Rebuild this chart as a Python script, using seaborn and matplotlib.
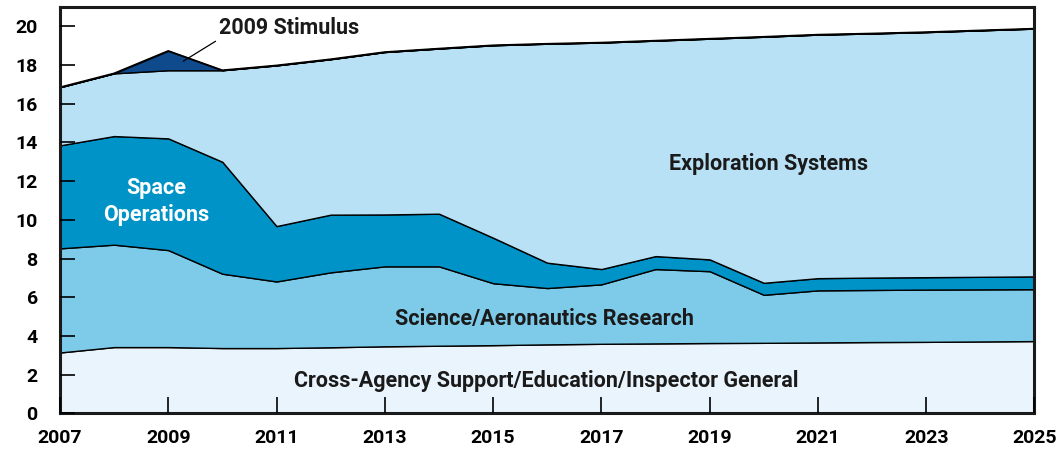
import numpy as np
import matplotlib
matplotlib.use('Agg')
import matplotlib.pyplot as plt
import seaborn as sns

# NASA budget by area, billions
years = list(range(2007, 2026))
cross_agency = [3.15, 3.43, 3.43, 3.38, 3.38, 3.42, 3.47, 3.50, 3.53, 3.57,
                3.60, 3.62, 3.64, 3.65, 3.67, 3.69, 3.70, 3.72, 3.74]
science = [5.38, 5.29, 5.01, 3.84, 3.44, 3.87, 4.13, 4.10, 3.20, 2.91,
           3.07, 3.84, 3.71, 2.48, 2.69, 2.69, 2.70, 2.69, 2.68]
space_ops = [5.32, 5.61, 5.77, 5.78, 2.86, 2.98, 2.68, 2.72, 2.35, 1.31,
             0.79, 0.67, 0.61, 0.62, 0.63, 0.64, 0.64, 0.65, 0.66]
exploration = [3.00, 3.24, 3.52, 4.73, 8.30, 8.03, 8.39, 8.53, 9.94, 11.31,
               11.70, 11.13, 11.40, 12.71, 12.58, 12.61, 12.66, 12.73, 12.80]
stimulus = [0, 0, 1.0, 0, 0, 0, 0, 0, 0, 0, 0, 0, 0, 0, 0, 0, 0, 0, 0]

colors = ['#EAF4FD', '#7DCBE9', '#0093C8', '#B8E1F5', '#0E4A8C']
x_ticks = list(range(2007, 2026, 2))
y_ticks = list(range(0, 21, 2))

sns.set_theme(style='white')
plt.rcParams['font.family'] = ['Roboto', 'DejaVu Sans']
plt.rcParams['font.weight'] = 'bold'

fig, ax = plt.subplots(figsize=(10.61, 4.62), dpi=100)
ax.stackplot(years, cross_agency, science, space_ops, exploration, stimulus,
             colors=colors, edgecolor='black', linewidth=1.0)

# outline of the top edge
top = np.sum([cross_agency, science, space_ops, exploration, stimulus], axis=0)
sns.lineplot(x=years, y=top, color='black', linewidth=1.2, ax=ax)

ax.set_xlim(2007, 2025)
ax.set_ylim(0, 21)
ax.set_axisbelow(False)
ax.set_xticks(x_ticks)
ax.set_yticks(y_ticks)
ax.tick_params(axis='both', direction='in', width=1.2, bottom=True, left=True,
               colors='black', labelsize=14)
ax.tick_params(axis='x', pad=11, length=11.5)
ax.tick_params(axis='y', pad=16, length=11)
for lab in ax.get_xticklabels() + ax.get_yticklabels():
    lab.set_fontweight('bold')
for s in ax.spines.values():
    s.set_linewidth(2.2)
    s.set_color('#1a1a1a')
ax.set_xlabel('')
ax.set_ylabel('')

txt = dict(fontsize=15.5, fontweight='bold', ha='center', va='center')
ax.text(2015.98, 1.7, 'Cross-Agency Support/Education/Inspector General',
        color='#1a1a1a', **txt)
ax.text(2015.95, 4.9, 'Science/Aeronautics Research', color='#1a1a1a', **txt)
ax.text(2008.78, 10.95, 'Space\nOperations', color='white', linespacing=1.3, **txt)
ax.text(2020.08, 12.9, 'Exploration Systems', color='#1a1a1a', **txt)
ax.annotate('2009 Stimulus', xy=(2009.28, 18.2), xytext=(2011.23, 19.9),
            fontsize=15.5, fontweight='bold', ha='center', va='center',
            color='#1a1a1a',
            arrowprops=dict(arrowstyle='-', color='black', lw=0.9,
                            shrinkA=0, shrinkB=0,
                            relpos=(0.0, 0.0)))

plt.subplots_adjust(left=0.0565, right=0.975, top=0.985, bottom=0.105)
plt.savefig('out.png', dpi=100)
